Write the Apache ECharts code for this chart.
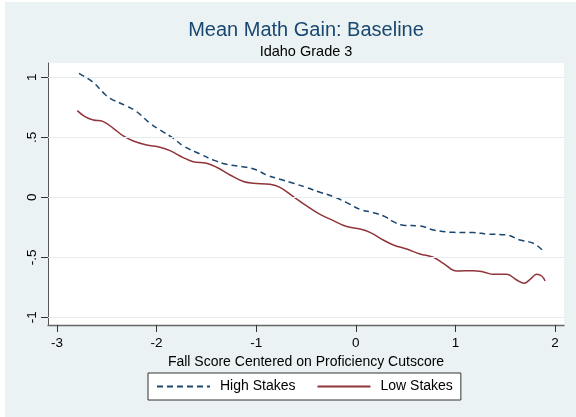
<!DOCTYPE html>
<html>
<head>
<meta charset="utf-8">
<script src="https://cdn.jsdelivr.net/npm/echarts@6/dist/echarts.min.js"></script>
<style>
  html, body { margin: 0; padding: 0; background: #ffffff; }
  #chart { position: absolute; left: 5px; top: 2px; width: 571px; height: 415px; background: #EAF2F3; }
</style>
</head>
<body>
<div id="chart"></div>
<script>
// Smoothed mean math gain by centered fall score
const highX = [-2.779, -2.635, -2.535, -2.468, -2.301, -2.201, -2.066, -1.966, -1.832, -1.732, -1.565, -1.431, -1.297, -1.097, -0.996, -0.896, -0.761, -0.627, -0.493, -0.359, -0.226, -0.092, 0.042, 0.176, 0.293, 0.377, 0.477, 0.644, 0.778, 0.979, 1.180, 1.314, 1.514, 1.648, 1.782, 1.889];
const highY = [1.033, 0.956, 0.872, 0.825, 0.761, 0.714, 0.617, 0.561, 0.492, 0.428, 0.361, 0.311, 0.275, 0.250, 0.228, 0.186, 0.150, 0.117, 0.081, 0.042, 0.006, -0.044, -0.100, -0.128, -0.161, -0.203, -0.233, -0.239, -0.272, -0.292, -0.294, -0.306, -0.314, -0.356, -0.383, -0.453];

const lowX = [-2.796, -2.719, -2.635, -2.535, -2.434, -2.334, -2.234, -2.100, -1.966, -1.866, -1.732, -1.632, -1.498, -1.397, -1.263, -1.129, -1.029, -0.862, -0.761, -0.627, -0.493, -0.359, -0.226, -0.092, 0.042, 0.142, 0.276, 0.377, 0.511, 0.644, 0.778, 0.879, 1.013, 1.180, 1.281, 1.381, 1.515, 1.615, 1.689, 1.750, 1.816, 1.866, 1.900];
const lowY = [0.722, 0.672, 0.644, 0.631, 0.575, 0.511, 0.469, 0.436, 0.417, 0.389, 0.331, 0.297, 0.283, 0.250, 0.186, 0.131, 0.117, 0.108, 0.083, 0.006, -0.072, -0.142, -0.194, -0.244, -0.264, -0.292, -0.356, -0.397, -0.431, -0.472, -0.500, -0.550, -0.614, -0.611, -0.622, -0.642, -0.642, -0.689, -0.717, -0.683, -0.642, -0.656, -0.697];

const xTicks = [-3, -2, -1, 0, 1, 2];
const xTickLabels = ['-3', '-2', '-1', '0', '1', '2'];
const yTicks = [-1, -0.5, 0, 0.5, 1];
const yTickLabels = ['-1', '-.5', '0', '.5', '1'];

const FONT = '"Liberation Sans", Arial, Helvetica, sans-serif';
const pairs = (xs, ys) => xs.map((x, i) => [x, ys[i]]);

const chart = echarts.init(document.getElementById('chart'), null, { renderer: 'canvas' });

chart.setOption({
  animation: false,
  textStyle: { fontFamily: FONT },
  graphic: [
    {
      type: 'text', x: 301, y: 28,
      style: { text: 'Mean Math Gain: Baseline', fill: '#1A476F', font: '20px ' + FONT, textAlign: 'center', textVerticalAlign: 'middle' }
    },
    {
      type: 'text', x: 301, y: 50,
      style: { text: 'Idaho Grade 3', fill: '#000000', font: '14.5px ' + FONT, textAlign: 'center', textVerticalAlign: 'middle' }
    }
  ],
  grid: {
    left: 43, right: 12, top: 61, bottom: 92,
    show: true, backgroundColor: '#ffffff', borderWidth: 0
  },
  legend: {
    left: 143, top: 371,
    orient: 'horizontal',
    data: ['High Stakes', 'Low Stakes'],
    itemWidth: 53, itemHeight: 14, itemGap: 21,
    padding: [6.5, 8],
    backgroundColor: '#ffffff',
    borderColor: '#333333', borderWidth: 1,
    itemStyle: { color: 'transparent', borderWidth: 0, opacity: 0 },
    textStyle: { color: '#000', fontSize: 14, fontFamily: FONT, padding: [0, 0, 0, 5] }
  },
  xAxis: {
    type: 'value',
    min: -3.09, max: 2.09,
    name: 'Fall Score Centered on Proficiency Cutscore',
    nameLocation: 'middle', nameGap: 23,
    nameTextStyle: { color: '#000', fontSize: 14, fontFamily: FONT },
    axisLine: { show: true, onZero: false, lineStyle: { color: '#666666', width: 1.3 } },
    axisTick: { show: true, length: 7, customValues: xTicks, lineStyle: { color: '#333333', width: 1 } },
    axisLabel: {
      customValues: xTicks, margin: 11, color: '#000', fontSize: 13.5, fontFamily: FONT,
      formatter: v => xTickLabels[xTicks.indexOf(v)] ?? ''
    },
    splitLine: { show: false }
  },
  yAxis: {
    type: 'value',
    min: -1.064, max: 1.119,
    axisLine: { show: true, onZero: false, lineStyle: { color: '#555555', width: 1 } },
    axisTick: { show: true, length: 7, customValues: yTicks, lineStyle: { color: '#333333', width: 1 } },
    axisLabel: {
      customValues: yTicks, rotate: 90, margin: 9, color: '#000', fontSize: 13.5, fontFamily: FONT,
      formatter: v => yTickLabels[yTicks.indexOf(v)] ?? ''
    },
    splitLine: { show: false }
  },
  series: [
    {
      name: 'grid', type: 'line', data: [], silent: true, z: 1,
      markLine: {
        silent: true, symbol: 'none', animation: false,
        label: { show: false },
        lineStyle: { color: '#E4ECEE', width: 1.2, type: 'solid' },
        data: yTicks.map(v => ({ yAxis: v }))
      }
    },
    {
      name: 'High Stakes', type: 'line', z: 3,
      data: pairs(highX, highY),
      smooth: 0.4, symbol: 'none', showSymbol: false,
      lineStyle: { color: '#1A476F', width: 1.5, type: [6, 4] },
      itemStyle: { color: '#1A476F' }
    },
    {
      name: 'Low Stakes', type: 'line', z: 3,
      data: pairs(lowX, lowY),
      smooth: 0.4, symbol: 'none', showSymbol: false,
      lineStyle: { color: '#90353B', width: 1.5, type: 'solid' },
      itemStyle: { color: '#90353B' }
    }
  ]
});
</script>
</body>
</html>
